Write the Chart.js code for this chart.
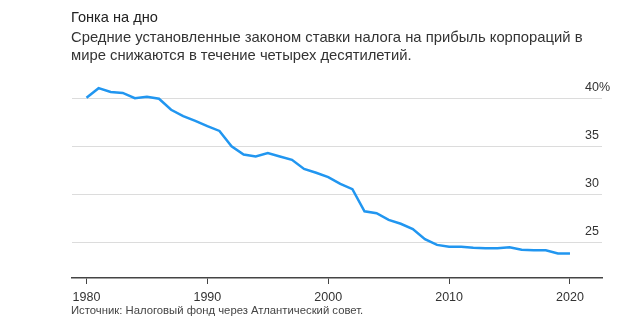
<!DOCTYPE html>
<html>
<head>
<meta charset="utf-8">
<script src="https://cdn.jsdelivr.net/npm/chart.js@4"></script>
<style>
  body { margin: 0; background: #fff; font-family: "Liberation Sans", Arial, sans-serif; }
  #wrap { position: relative; width: 620px; height: 329px; overflow: hidden; }
  #chart { position: absolute; left: 0; top: 0; }
  .title { position: absolute; left: 71px; top: 9px; font-size: 14.6px; color: #222; }
  .sub { position: absolute; left: 71px; top: 28px; font-size: 14.8px; line-height: 18px; color: #333; width: 545px; }
  .src { position: absolute; left: 71px; top: 304px; font-size: 11.3px; color: #444; }
</style>
</head>
<body>
<div id="wrap">
  <canvas id="chart" width="620" height="329"></canvas>
  <div class="title">Гонка на дно</div>
  <div class="sub">Средние установленные законом ставки налога на прибыль корпораций в<br>мире снижаются в течение четырех десятилетий.</div>
  <div class="src">Источник: Налоговый фонд через Атлантический совет.</div>
</div>
<script>
var years = [];
for (var y = 1980; y <= 2020; y++) years.push(y);

var rates = [
    40.1, 41.1, 40.7, 40.6, 40.05, 40.2, 40.0, 38.85, 38.2, 37.7,
    37.15, 36.65, 35.05, 34.2, 34.0, 34.35, 34.0, 33.65, 32.7, 32.3,
    31.85, 31.15, 30.6, 28.3, 28.1, 27.4, 27.0, 26.45, 25.4, 24.8,
    24.6, 24.6, 24.5, 24.45, 24.45, 24.55, 24.3, 24.25, 24.25, 23.9,
    23.9
];

var xTicks = [1980, 1990, 2000, 2010, 2020];
var yTicks = [25, 30, 35, 40];

var points = years.map((yr, i) => ({ x: yr, y: rates[i] }));

var ctx = document.getElementById('chart').getContext('2d');

var myChart = new Chart(ctx, {
    type: 'line',
    data: {
        datasets: [{
            data: points,
            borderColor: '#2196f0',
            borderWidth: 2.5,
            pointRadius: 0,
            tension: 0
        }]
    },
    options: {
        responsive: false,
        animation: false,
        layout: { padding: { left: 72, right: 2, top: 79.5, bottom: 18 } },
        plugins: { legend: { display: false }, tooltip: { enabled: false } },
        scales: {
            x: {
                type: 'linear',
                min: 1978.8,
                max: 2022.65,
                afterBuildTicks: scale => { scale.ticks = xTicks.map(v => ({ value: v })); },
                grid: { drawOnChartArea: false, drawTicks: true, tickLength: 6, color: '#444' },
                border: { display: true, color: '#444', width: 1.5 },
                ticks: {
                    padding: 6,
                    color: '#333',
                    font: { family: '"Liberation Sans", Arial, sans-serif', size: 12.5 },
                    maxRotation: 0,
                    callback: v => String(v)
                }
            },
            y: {
                position: 'right',
                min: 21.36,
                max: 42,
                afterBuildTicks: scale => { scale.ticks = yTicks.map(v => ({ value: v })); },
                grid: { color: '#dcdcdc', lineWidth: 1, drawTicks: false },
                border: { display: false },
                ticks: {
                    mirror: true,
                    crossAlign: 'far',
                    padding: 8,
                    labelOffset: -11,
                    color: '#333',
                    font: { family: '"Liberation Sans", Arial, sans-serif', size: 12.5 },
                    callback: v => v === 40 ? '40%' : String(v)
                }
            }
        }
    }
});
</script>
</body>
</html>
